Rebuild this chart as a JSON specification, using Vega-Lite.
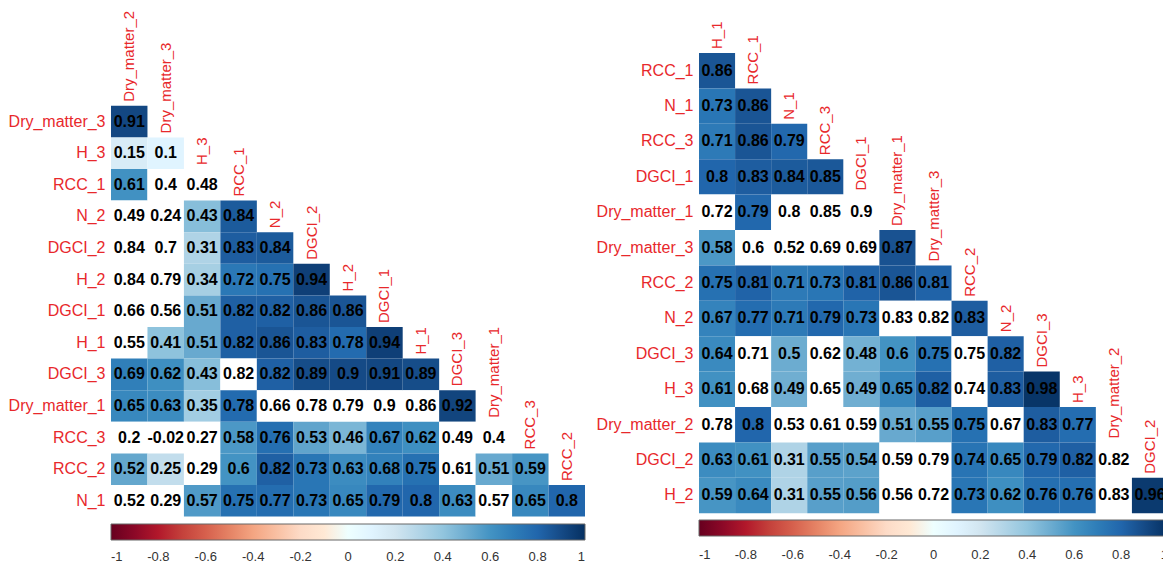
{
"$schema": "https://vega.github.io/schema/vega-lite/v6.json",
"padding": {"left": 8, "top": 10, "right": 0, "bottom": 0},
"config": {"view": {"stroke": null}, "font": "Liberation Sans"},
"spacing": 10,
"resolve": {"scale": {"color": "independent", "x": "independent", "y": "independent"}, "legend": {"color": "independent"}},
"datasets": {
"leftCells": [
{"row":"Dry_matter_3","col":"Dry_matter_2","r":0.91,"s":1},
{"row":"H_3","col":"Dry_matter_2","r":0.15,"s":1},{"row":"H_3","col":"Dry_matter_3","r":0.1,"s":1},
{"row":"RCC_1","col":"Dry_matter_2","r":0.61,"s":1},{"row":"RCC_1","col":"Dry_matter_3","r":0.4,"s":0},{"row":"RCC_1","col":"H_3","r":0.48,"s":0},
{"row":"N_2","col":"Dry_matter_2","r":0.49,"s":0},{"row":"N_2","col":"Dry_matter_3","r":0.24,"s":0},{"row":"N_2","col":"H_3","r":0.43,"s":1},{"row":"N_2","col":"RCC_1","r":0.84,"s":1},
{"row":"DGCI_2","col":"Dry_matter_2","r":0.84,"s":0},{"row":"DGCI_2","col":"Dry_matter_3","r":0.7,"s":0},{"row":"DGCI_2","col":"H_3","r":0.31,"s":1},{"row":"DGCI_2","col":"RCC_1","r":0.83,"s":1},{"row":"DGCI_2","col":"N_2","r":0.84,"s":1},
{"row":"H_2","col":"Dry_matter_2","r":0.84,"s":0},{"row":"H_2","col":"Dry_matter_3","r":0.79,"s":0},{"row":"H_2","col":"H_3","r":0.34,"s":1},{"row":"H_2","col":"RCC_1","r":0.72,"s":1},{"row":"H_2","col":"N_2","r":0.75,"s":1},{"row":"H_2","col":"DGCI_2","r":0.94,"s":1},
{"row":"DGCI_1","col":"Dry_matter_2","r":0.66,"s":0},{"row":"DGCI_1","col":"Dry_matter_3","r":0.56,"s":0},{"row":"DGCI_1","col":"H_3","r":0.51,"s":1},{"row":"DGCI_1","col":"RCC_1","r":0.82,"s":1},{"row":"DGCI_1","col":"N_2","r":0.82,"s":1},{"row":"DGCI_1","col":"DGCI_2","r":0.86,"s":1},{"row":"DGCI_1","col":"H_2","r":0.86,"s":1},
{"row":"H_1","col":"Dry_matter_2","r":0.55,"s":0},{"row":"H_1","col":"Dry_matter_3","r":0.41,"s":1},{"row":"H_1","col":"H_3","r":0.51,"s":1},{"row":"H_1","col":"RCC_1","r":0.82,"s":1},{"row":"H_1","col":"N_2","r":0.86,"s":1},{"row":"H_1","col":"DGCI_2","r":0.83,"s":1},{"row":"H_1","col":"H_2","r":0.78,"s":1},{"row":"H_1","col":"DGCI_1","r":0.94,"s":1},
{"row":"DGCI_3","col":"Dry_matter_2","r":0.69,"s":1},{"row":"DGCI_3","col":"Dry_matter_3","r":0.62,"s":1},{"row":"DGCI_3","col":"H_3","r":0.43,"s":1},{"row":"DGCI_3","col":"RCC_1","r":0.82,"s":0},{"row":"DGCI_3","col":"N_2","r":0.82,"s":1},{"row":"DGCI_3","col":"DGCI_2","r":0.89,"s":1},{"row":"DGCI_3","col":"H_2","r":0.9,"s":1},{"row":"DGCI_3","col":"DGCI_1","r":0.91,"s":1},{"row":"DGCI_3","col":"H_1","r":0.89,"s":1},
{"row":"Dry_matter_1","col":"Dry_matter_2","r":0.65,"s":1},{"row":"Dry_matter_1","col":"Dry_matter_3","r":0.63,"s":1},{"row":"Dry_matter_1","col":"H_3","r":0.35,"s":1},{"row":"Dry_matter_1","col":"RCC_1","r":0.78,"s":1},{"row":"Dry_matter_1","col":"N_2","r":0.66,"s":0},{"row":"Dry_matter_1","col":"DGCI_2","r":0.78,"s":0},{"row":"Dry_matter_1","col":"H_2","r":0.79,"s":0},{"row":"Dry_matter_1","col":"DGCI_1","r":0.9,"s":0},{"row":"Dry_matter_1","col":"H_1","r":0.86,"s":0},{"row":"Dry_matter_1","col":"DGCI_3","r":0.92,"s":1},
{"row":"RCC_3","col":"Dry_matter_2","r":0.2,"s":0},{"row":"RCC_3","col":"Dry_matter_3","r":-0.02,"s":0},{"row":"RCC_3","col":"H_3","r":0.27,"s":0},{"row":"RCC_3","col":"RCC_1","r":0.58,"s":1},{"row":"RCC_3","col":"N_2","r":0.76,"s":1},{"row":"RCC_3","col":"DGCI_2","r":0.53,"s":1},{"row":"RCC_3","col":"H_2","r":0.46,"s":1},{"row":"RCC_3","col":"DGCI_1","r":0.67,"s":1},{"row":"RCC_3","col":"H_1","r":0.62,"s":1},{"row":"RCC_3","col":"DGCI_3","r":0.49,"s":0},{"row":"RCC_3","col":"Dry_matter_1","r":0.4,"s":0},
{"row":"RCC_2","col":"Dry_matter_2","r":0.52,"s":1},{"row":"RCC_2","col":"Dry_matter_3","r":0.25,"s":1},{"row":"RCC_2","col":"H_3","r":0.29,"s":0},{"row":"RCC_2","col":"RCC_1","r":0.6,"s":1},{"row":"RCC_2","col":"N_2","r":0.82,"s":1},{"row":"RCC_2","col":"DGCI_2","r":0.73,"s":1},{"row":"RCC_2","col":"H_2","r":0.63,"s":1},{"row":"RCC_2","col":"DGCI_1","r":0.68,"s":1},{"row":"RCC_2","col":"H_1","r":0.75,"s":1},{"row":"RCC_2","col":"DGCI_3","r":0.61,"s":0},{"row":"RCC_2","col":"Dry_matter_1","r":0.51,"s":1},{"row":"RCC_2","col":"RCC_3","r":0.59,"s":1},
{"row":"N_1","col":"Dry_matter_2","r":0.52,"s":0},{"row":"N_1","col":"Dry_matter_3","r":0.29,"s":0},{"row":"N_1","col":"H_3","r":0.57,"s":1},{"row":"N_1","col":"RCC_1","r":0.75,"s":1},{"row":"N_1","col":"N_2","r":0.77,"s":1},{"row":"N_1","col":"DGCI_2","r":0.73,"s":1},{"row":"N_1","col":"H_2","r":0.65,"s":1},{"row":"N_1","col":"DGCI_1","r":0.79,"s":1},{"row":"N_1","col":"H_1","r":0.8,"s":1},{"row":"N_1","col":"DGCI_3","r":0.63,"s":1},{"row":"N_1","col":"Dry_matter_1","r":0.57,"s":0},{"row":"N_1","col":"RCC_3","r":0.65,"s":1},{"row":"N_1","col":"RCC_2","r":0.8,"s":1}
],
"leftLabels": [
{"row":"Dry_matter_2","col":"Dry_matter_2","lab":"Dry_matter_2"},{"row":"Dry_matter_3","col":"Dry_matter_3","lab":"Dry_matter_3"},{"row":"H_3","col":"H_3","lab":"H_3"},{"row":"RCC_1","col":"RCC_1","lab":"RCC_1"},{"row":"N_2","col":"N_2","lab":"N_2"},{"row":"DGCI_2","col":"DGCI_2","lab":"DGCI_2"},{"row":"H_2","col":"H_2","lab":"H_2"},{"row":"DGCI_1","col":"DGCI_1","lab":"DGCI_1"},{"row":"H_1","col":"H_1","lab":"H_1"},{"row":"DGCI_3","col":"DGCI_3","lab":"DGCI_3"},{"row":"Dry_matter_1","col":"Dry_matter_1","lab":"Dry_matter_1"},{"row":"RCC_3","col":"RCC_3","lab":"RCC_3"},{"row":"RCC_2","col":"RCC_2","lab":"RCC_2"}
],
"rightCells": [
{"row":"RCC_1","col":"H_1","r":0.86,"s":1},
{"row":"N_1","col":"H_1","r":0.73,"s":1},{"row":"N_1","col":"RCC_1","r":0.86,"s":1},
{"row":"RCC_3","col":"H_1","r":0.71,"s":1},{"row":"RCC_3","col":"RCC_1","r":0.86,"s":1},{"row":"RCC_3","col":"N_1","r":0.79,"s":1},
{"row":"DGCI_1","col":"H_1","r":0.8,"s":1},{"row":"DGCI_1","col":"RCC_1","r":0.83,"s":1},{"row":"DGCI_1","col":"N_1","r":0.84,"s":1},{"row":"DGCI_1","col":"RCC_3","r":0.85,"s":1},
{"row":"Dry_matter_1","col":"H_1","r":0.72,"s":0},{"row":"Dry_matter_1","col":"RCC_1","r":0.79,"s":1},{"row":"Dry_matter_1","col":"N_1","r":0.8,"s":0},{"row":"Dry_matter_1","col":"RCC_3","r":0.85,"s":0},{"row":"Dry_matter_1","col":"DGCI_1","r":0.9,"s":0},
{"row":"Dry_matter_3","col":"H_1","r":0.58,"s":1},{"row":"Dry_matter_3","col":"RCC_1","r":0.6,"s":0},{"row":"Dry_matter_3","col":"N_1","r":0.52,"s":0},{"row":"Dry_matter_3","col":"RCC_3","r":0.69,"s":0},{"row":"Dry_matter_3","col":"DGCI_1","r":0.69,"s":0},{"row":"Dry_matter_3","col":"Dry_matter_1","r":0.87,"s":1},
{"row":"RCC_2","col":"H_1","r":0.75,"s":1},{"row":"RCC_2","col":"RCC_1","r":0.81,"s":1},{"row":"RCC_2","col":"N_1","r":0.71,"s":1},{"row":"RCC_2","col":"RCC_3","r":0.73,"s":1},{"row":"RCC_2","col":"DGCI_1","r":0.81,"s":1},{"row":"RCC_2","col":"Dry_matter_1","r":0.86,"s":1},{"row":"RCC_2","col":"Dry_matter_3","r":0.81,"s":1},
{"row":"N_2","col":"H_1","r":0.67,"s":1},{"row":"N_2","col":"RCC_1","r":0.77,"s":1},{"row":"N_2","col":"N_1","r":0.71,"s":1},{"row":"N_2","col":"RCC_3","r":0.79,"s":1},{"row":"N_2","col":"DGCI_1","r":0.73,"s":1},{"row":"N_2","col":"Dry_matter_1","r":0.83,"s":0},{"row":"N_2","col":"Dry_matter_3","r":0.82,"s":0},{"row":"N_2","col":"RCC_2","r":0.83,"s":1},
{"row":"DGCI_3","col":"H_1","r":0.64,"s":1},{"row":"DGCI_3","col":"RCC_1","r":0.71,"s":0},{"row":"DGCI_3","col":"N_1","r":0.5,"s":1},{"row":"DGCI_3","col":"RCC_3","r":0.62,"s":0},{"row":"DGCI_3","col":"DGCI_1","r":0.48,"s":1},{"row":"DGCI_3","col":"Dry_matter_1","r":0.6,"s":1},{"row":"DGCI_3","col":"Dry_matter_3","r":0.75,"s":1},{"row":"DGCI_3","col":"RCC_2","r":0.75,"s":0},{"row":"DGCI_3","col":"N_2","r":0.82,"s":1},
{"row":"H_3","col":"H_1","r":0.61,"s":1},{"row":"H_3","col":"RCC_1","r":0.68,"s":0},{"row":"H_3","col":"N_1","r":0.49,"s":1},{"row":"H_3","col":"RCC_3","r":0.65,"s":0},{"row":"H_3","col":"DGCI_1","r":0.49,"s":1},{"row":"H_3","col":"Dry_matter_1","r":0.65,"s":1},{"row":"H_3","col":"Dry_matter_3","r":0.82,"s":1},{"row":"H_3","col":"RCC_2","r":0.74,"s":0},{"row":"H_3","col":"N_2","r":0.83,"s":1},{"row":"H_3","col":"DGCI_3","r":0.98,"s":1},
{"row":"Dry_matter_2","col":"H_1","r":0.78,"s":0},{"row":"Dry_matter_2","col":"RCC_1","r":0.8,"s":1},{"row":"Dry_matter_2","col":"N_1","r":0.53,"s":0},{"row":"Dry_matter_2","col":"RCC_3","r":0.61,"s":0},{"row":"Dry_matter_2","col":"DGCI_1","r":0.59,"s":0},{"row":"Dry_matter_2","col":"Dry_matter_1","r":0.51,"s":1},{"row":"Dry_matter_2","col":"Dry_matter_3","r":0.55,"s":1},{"row":"Dry_matter_2","col":"RCC_2","r":0.75,"s":1},{"row":"Dry_matter_2","col":"N_2","r":0.67,"s":0},{"row":"Dry_matter_2","col":"DGCI_3","r":0.83,"s":1},{"row":"Dry_matter_2","col":"H_3","r":0.77,"s":1},
{"row":"DGCI_2","col":"H_1","r":0.63,"s":1},{"row":"DGCI_2","col":"RCC_1","r":0.61,"s":1},{"row":"DGCI_2","col":"N_1","r":0.31,"s":1},{"row":"DGCI_2","col":"RCC_3","r":0.55,"s":1},{"row":"DGCI_2","col":"DGCI_1","r":0.54,"s":1},{"row":"DGCI_2","col":"Dry_matter_1","r":0.59,"s":0},{"row":"DGCI_2","col":"Dry_matter_3","r":0.79,"s":0},{"row":"DGCI_2","col":"RCC_2","r":0.74,"s":1},{"row":"DGCI_2","col":"N_2","r":0.65,"s":1},{"row":"DGCI_2","col":"DGCI_3","r":0.79,"s":1},{"row":"DGCI_2","col":"H_3","r":0.82,"s":1},{"row":"DGCI_2","col":"Dry_matter_2","r":0.82,"s":0},
{"row":"H_2","col":"H_1","r":0.59,"s":1},{"row":"H_2","col":"RCC_1","r":0.64,"s":1},{"row":"H_2","col":"N_1","r":0.31,"s":1},{"row":"H_2","col":"RCC_3","r":0.55,"s":1},{"row":"H_2","col":"DGCI_1","r":0.56,"s":1},{"row":"H_2","col":"Dry_matter_1","r":0.56,"s":0},{"row":"H_2","col":"Dry_matter_3","r":0.72,"s":0},{"row":"H_2","col":"RCC_2","r":0.73,"s":1},{"row":"H_2","col":"N_2","r":0.62,"s":1},{"row":"H_2","col":"DGCI_3","r":0.76,"s":1},{"row":"H_2","col":"H_3","r":0.76,"s":1},{"row":"H_2","col":"Dry_matter_2","r":0.83,"s":0},{"row":"H_2","col":"DGCI_2","r":0.96,"s":1}
],
"rightLabels": [
{"row":"H_1","col":"H_1","lab":"H_1"},{"row":"RCC_1","col":"RCC_1","lab":"RCC_1"},{"row":"N_1","col":"N_1","lab":"N_1"},{"row":"RCC_3","col":"RCC_3","lab":"RCC_3"},{"row":"DGCI_1","col":"DGCI_1","lab":"DGCI_1"},{"row":"Dry_matter_1","col":"Dry_matter_1","lab":"Dry_matter_1"},{"row":"Dry_matter_3","col":"Dry_matter_3","lab":"Dry_matter_3"},{"row":"RCC_2","col":"RCC_2","lab":"RCC_2"},{"row":"N_2","col":"N_2","lab":"N_2"},{"row":"DGCI_3","col":"DGCI_3","lab":"DGCI_3"},{"row":"H_3","col":"H_3","lab":"H_3"},{"row":"Dry_matter_2","col":"Dry_matter_2","lab":"Dry_matter_2"},{"row":"DGCI_2","col":"DGCI_2","lab":"DGCI_2"}
]
},
"hconcat": [
{
"width": 474, "height": 505.6,
"encoding": {
 "x": {"field": "col", "type": "nominal", "scale": {"domain": ["Dry_matter_2","Dry_matter_3","H_3","RCC_1","N_2","DGCI_2","H_2","DGCI_1","H_1","DGCI_3","Dry_matter_1","RCC_3","RCC_2"], "paddingInner": 0, "paddingOuter": 0}, "axis": null},
 "y": {"field": "row", "type": "nominal", "scale": {"domain": ["Dry_matter_2","Dry_matter_3","H_3","RCC_1","N_2","DGCI_2","H_2","DGCI_1","H_1","DGCI_3","Dry_matter_1","RCC_3","RCC_2","N_1"], "paddingInner": 0, "paddingOuter": 1, "align": 1},
   "axis": {"title": null, "domain": false, "ticks": false, "labelColor": "#E8282B", "labelFontSize": 16, "labelPadding": 6, "labelExpr": "datum.value == 'Dry_matter_2' ? '' : datum.label"}}
},
"layer": [
 {"data": {"name": "leftCells"}, "mark": {"type": "rect"},
  "encoding": {"color": {"condition": {"test": "datum.s == 0", "value": "white"}, "field": "r", "type": "quantitative",
    "scale": {"domain": [-1,-0.8,-0.6,-0.4,-0.2,0,0.2,0.4,0.6,0.8,1], "range": ["#67001F","#B2182B","#D6604D","#F4A582","#FDDBC7","#FFFFFF","#D1E5F0","#92C5DE","#4393C3","#2166AC","#053061"]},
    "legend": {"orient": "none", "legendX": 0, "legendY": 513, "direction": "horizontal", "gradientLength": 474, "gradientThickness": 16, "title": null, "values": [-1,-0.8,-0.6,-0.4,-0.2,0,0.2,0.4,0.6,0.8,1], "labelExpr": "'' + datum.value", "labelFontSize": 13, "labelColor": "#333333", "labelOffset": 11, "labelAlign": "center", "labelOverlap": false, "gradientStrokeColor": "#666666", "gradientStrokeWidth": 1}}}},
 {"data": {"name": "leftCells"}, "mark": {"type": "text", "fontWeight": "bold", "fontSize": 16, "color": "black"},
  "encoding": {"text": {"field": "r", "type": "nominal"}}},
 {"data": {"name": "leftLabels"}, "mark": {"type": "text", "angle": 270, "align": "left", "baseline": "middle", "dx": -11.8, "fontSize": 15, "color": "#E8282B"},
  "encoding": {"text": {"field": "lab", "type": "nominal"}}}
]
},
{
"width": 469, "height": 502.2,
"encoding": {
 "x": {"field": "col", "type": "nominal", "scale": {"domain": ["H_1","RCC_1","N_1","RCC_3","DGCI_1","Dry_matter_1","Dry_matter_3","RCC_2","N_2","DGCI_3","H_3","Dry_matter_2","DGCI_2"], "paddingInner": 0, "paddingOuter": 0}, "axis": null},
 "y": {"field": "row", "type": "nominal", "scale": {"domain": ["H_1","RCC_1","N_1","RCC_3","DGCI_1","Dry_matter_1","Dry_matter_3","RCC_2","N_2","DGCI_3","H_3","Dry_matter_2","DGCI_2","H_2"], "paddingInner": 0, "paddingOuter": 0.0932, "align": 1},
   "axis": {"title": null, "domain": false, "ticks": false, "labelColor": "#E8282B", "labelFontSize": 16, "labelPadding": 6, "labelExpr": "datum.value == 'H_1' ? '' : datum.label"}}
},
"layer": [
 {"data": {"name": "rightCells"}, "mark": {"type": "rect"},
  "encoding": {"color": {"condition": {"test": "datum.s == 0", "value": "white"}, "field": "r", "type": "quantitative",
    "scale": {"domain": [-1,-0.8,-0.6,-0.4,-0.2,0,0.2,0.4,0.6,0.8,1], "range": ["#67001F","#B2182B","#D6604D","#F4A582","#FDDBC7","#FFFFFF","#D1E5F0","#92C5DE","#4393C3","#2166AC","#053061"]},
    "legend": {"orient": "none", "legendX": 0, "legendY": 509, "direction": "horizontal", "gradientLength": 469, "gradientThickness": 16, "title": null, "values": [-1,-0.8,-0.6,-0.4,-0.2,0,0.2,0.4,0.6,0.8,1], "labelExpr": "'' + datum.value", "labelFontSize": 13, "labelColor": "#333333", "labelOffset": 13, "labelAlign": "center", "labelOverlap": false, "gradientStrokeColor": "#666666", "gradientStrokeWidth": 1}}}},
 {"data": {"name": "rightCells"}, "mark": {"type": "text", "fontWeight": "bold", "fontSize": 16, "color": "black"},
  "encoding": {"text": {"field": "r", "type": "nominal"}}},
 {"data": {"name": "rightLabels"}, "mark": {"type": "text", "angle": 270, "align": "left", "baseline": "middle", "dx": -13.7, "fontSize": 15, "color": "#E8282B"},
  "encoding": {"text": {"field": "lab", "type": "nominal"}}}
]
}
]
}
